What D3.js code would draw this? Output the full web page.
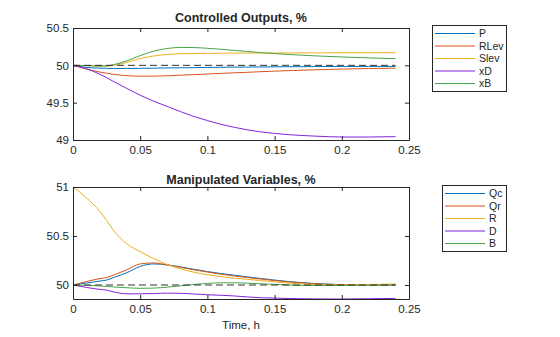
<!doctype html>
<head>
<style>
  body { margin: 0; background: #fff; }
  svg { display: block; font-family: "Liberation Sans", Arial, Helvetica, sans-serif; }
  .tick text { fill: #262626; }
</style>
<script src="https://cdnjs.cloudflare.com/ajax/libs/d3/7.8.5/d3.min.js"></script>
</head>
<body>
<script>

// sample times, h
var tTop = [0, 0.01, 0.02, 0.025, 0.03, 0.04, 0.05, 0.06, 0.07, 0.08, 0.09, 0.1, 0.11, 0.12, 0.13, 0.14, 0.15, 0.16, 0.18, 0.2, 0.22, 0.24];

// controlled outputs, %
var P    = [50, 49.972, 49.962, 49.96, 49.958, 49.958, 49.96, 49.962, 49.965, 49.967, 49.969, 49.972, 49.974, 49.976, 49.977, 49.978, 49.98, 49.981, 49.983, 49.985, 49.985, 49.985];
var RLev = [50, 49.95, 49.91, 49.895, 49.88, 49.862, 49.855, 49.855, 49.86, 49.868, 49.876, 49.884, 49.892, 49.9, 49.907, 49.915, 49.922, 49.929, 49.94, 49.95, 49.957, 49.962];
var Slev = [50, 49.996, 49.99, 49.99, 49.998, 50.04, 50.09, 50.125, 50.145, 50.155, 50.158, 50.16, 50.162, 50.164, 50.165, 50.165, 50.165, 50.166, 50.167, 50.168, 50.169, 50.17];
var xD   = [50, 49.955, 49.88, 49.835, 49.785, 49.69, 49.6, 49.52, 49.45, 49.38, 49.315, 49.26, 49.21, 49.17, 49.135, 49.108, 49.088, 49.072, 49.052, 49.04, 49.04, 49.045];
var xB   = [50, 49.996, 49.99, 49.993, 50.008, 50.06, 50.13, 50.19, 50.225, 50.24, 50.238, 50.228, 50.215, 50.2, 50.185, 50.17, 50.157, 50.146, 50.127, 50.112, 50.1, 50.09];

// manipulated variables, %
var Qc = [50, 50.02, 50.04, 50.05, 50.075, 50.125, 50.19, 50.215, 50.205, 50.185, 50.16, 50.137, 50.117, 50.1, 50.082, 50.066, 50.05, 50.036, 50.015, 50.004, 50.0, 50.0];
var Qr = [50, 50.035, 50.065, 50.075, 50.1, 50.155, 50.215, 50.225, 50.205, 50.18, 50.155, 50.132, 50.11, 50.092, 50.075, 50.06, 50.045, 50.032, 50.012, 50.003, 50.0, 50.0];
var R  = [51, 50.89, 50.75, 50.66, 50.56, 50.42, 50.34, 50.27, 50.21, 50.165, 50.13, 50.105, 50.085, 50.07, 50.057, 50.045, 50.032, 50.02, 50.005, 50.0, 50.005, 50.01];
var D  = [50, 49.975, 49.955, 49.948, 49.93, 49.91, 49.91, 49.913, 49.917, 49.915, 49.908, 49.9, 49.895, 49.888, 49.878, 49.87, 49.866, 49.862, 49.858, 49.857, 49.86, 49.863];
var B  = [50, 49.996, 49.99, 49.986, 49.98, 49.972, 49.966, 49.968, 49.978, 49.992, 50.005, 50.016, 50.022, 50.022, 50.018, 50.012, 50.006, 50.0, 49.995, 49.995, 49.997, 50.0];

var colors = ["#0072bd", "#d95319", "#edb120", "#8224d8", "#47a447"];
var topNames = ["P", "RLev", "Slev", "xD", "xB"];
var botNames = ["Qc", "Qr", "R", "D", "B"];
var xTicks = [0, 0.05, 0.1, 0.15, 0.2, 0.25];
var topYTicks = [49, 49.5, 50, 50.5];
var botYTicks = [50, 50.5, 51];

var W = 560, H = 337;
var svg = d3.select("body").append("svg").attr("width", W).attr("height", H);

function panel(opts) {
  var x = d3.scaleLinear().domain([0, 0.25]).range([73, 409]);
  var y = d3.scaleLinear().domain(opts.ydom).range([opts.y1, opts.y0]);
  var g = svg.append("g");

  // data lines
  var line = d3.line()
    .x(function(d) { return x(d[0]); })
    .y(function(d) { return y(d[1]); })
    .curve(d3.curveMonotoneX);

  opts.series.forEach(function(s, i) {
    g.append("path")
      .datum(tTop.map(function(t, k) { return [t, s[k]]; }))
      .attr("d", line)
      .attr("fill", "none")
      .attr("stroke", colors[i])
      .attr("stroke-width", 1);
  });

  // set point reference
  g.append("line")
    .attr("x1", x(0)).attr("x2", x(0.24))
    .attr("y1", y(50)).attr("y2", y(50))
    .attr("stroke", "#333").attr("stroke-width", 1)
    .attr("stroke-dasharray", "7,4");

  // axes, MATLAB style with inward ticks on all sides
  var fmt = function(d) { return String(+d.toFixed(2)); };
  g.append("g").attr("transform", "translate(0," + opts.y1 + ")")
    .call(d3.axisBottom(x).tickValues(xTicks).tickFormat(fmt).tickSizeInner(-4).tickSizeOuter(0).tickPadding(6));
  g.append("g").attr("transform", "translate(0," + opts.y0 + ")")
    .call(d3.axisTop(x).tickValues(xTicks).tickFormat("").tickSizeInner(-4).tickSizeOuter(0));
  g.append("g").attr("transform", "translate(73,0)")
    .call(d3.axisLeft(y).tickValues(opts.yticks).tickFormat(fmt).tickSizeInner(-4).tickSizeOuter(0).tickPadding(4));
  g.append("g").attr("transform", "translate(409,0)")
    .call(d3.axisRight(y).tickValues(opts.yticks).tickFormat("").tickSizeInner(-4).tickSizeOuter(0));
  g.selectAll(".domain, .tick line").attr("stroke", "#262626");
  g.selectAll(".tick text").attr("font-size", 11.5).style("font-family", "inherit");

  g.append("text")
    .attr("x", 241).attr("y", opts.titleY)
    .attr("text-anchor", "middle")
    .attr("font-size", 12.5).attr("font-weight", "bold")
    .attr("fill", "#262626")
    .text(opts.title);

  // legend
  var L = opts.legend;
  var lg = svg.append("g").attr("transform", "translate(" + L.x + "," + L.y + ")");
  lg.append("rect").attr("x", 0.5).attr("y", 0.5)
    .attr("width", L.w).attr("height", 66)
    .attr("fill", "#fff").attr("stroke", "#262626").attr("stroke-width", 1);
  opts.names.forEach(function(n, i) {
    var yy = 8.5 + i * 12.5;
    lg.append("line").attr("x1", 3).attr("x2", 43)
      .attr("y1", yy).attr("y2", yy)
      .attr("stroke", colors[i]).attr("stroke-width", 1);
    lg.append("text").attr("x", 47).attr("y", yy + 3.5)
      .attr("font-size", 10.5).attr("fill", "#262626")
      .text(n);
  });
}

panel({
  series: [P, RLev, Slev, xD, xB],
  names: topNames,
  ydom: [49, 50.5], y0: 28, y1: 140,
  yticks: topYTicks,
  title: "Controlled Outputs, %", titleY: 22,
  legend: { x: 432, y: 25, w: 74 }
});

panel({
  series: [Qc, Qr, R, D, B],
  names: botNames,
  ydom: [49.857, 51], y0: 187, y1: 299,
  yticks: botYTicks,
  title: "Manipulated Variables, %", titleY: 184,
  legend: { x: 442, y: 185, w: 64 }
});

svg.append("text")
  .attr("x", 241).attr("y", 329)
  .attr("text-anchor", "middle")
  .attr("font-size", 11.5).attr("fill", "#262626")
  .text("Time, h");
</script>
</body>
